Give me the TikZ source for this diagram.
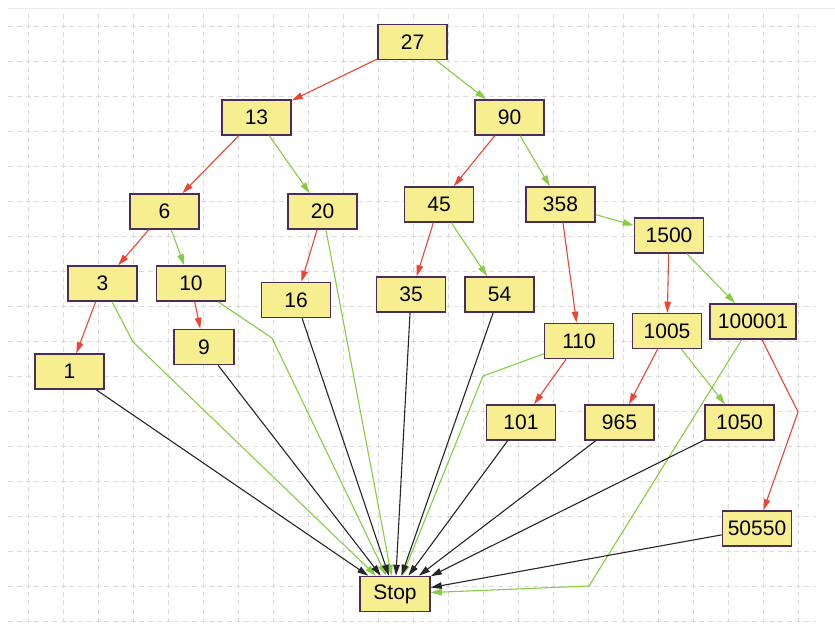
\documentclass[tikz,border=0pt]{standalone}
\usepackage{fontspec}
\setmainfont{Liberation Sans}
\usepackage{tikz}
\usepackage{xcolor}
\usetikzlibrary{positioning,arrows.meta}

\definecolor{box-fill}{HTML}{F7EF8F}
\definecolor{box-line}{HTML}{4B2D59}
\definecolor{edge-red}{HTML}{EE4433}
\definecolor{edge-green}{HTML}{88CC44}

\begin{document}
\begin{tikzpicture}
[
x=1pt, y=-1pt,
cell-a/.style={rectangle, draw=box-line, fill=box-fill, line width=1.6pt,
               minimum width=69pt, minimum height=35pt, inner sep=0pt,
               font=\fontsize{21}{24}\selectfont},
grid-a/.style={gray!28, line width=0.9pt, dash pattern=on 5pt off 3.75pt},
edge-lt/.style={edge-red, line width=1.1pt, -{Triangle[length=11pt,width=6.5pt]}},
edge-gt/.style={edge-green, line width=1.1pt, -{Triangle[length=11pt,width=6.5pt]}},
edge-end/.style={black!85, line width=1.1pt, -{Triangle[length=11pt,width=6.5pt]}}
]
\useasboundingbox (0,0) rectangle (835,625);
\fill[white] (0,0) rectangle (835,625);
\draw[gray!15, line width=1pt] (8,8) -- (835,8);
% grid
\foreach \i in {0,...,22}
  \draw[grid-a] (28+35*\i, 14) -- (28+35*\i, 622);
\foreach \j in {0,...,17}
  \draw[grid-a] (8, 26+35*\j) -- (816, 26+35*\j);

% boxes
\node (cell-27)     [cell-a                     ] at (412.5, 42.0) {27};
\node (cell-13)     [cell-a                     ] at (256.5,117.5) {13};
\node (cell-90)     [cell-a                     ] at (509.5,117.5) {90};
\node (cell-6)      [cell-a                     ] at (164.5,211.5) {6};
\node (cell-20)     [cell-a                     ] at (322.5,211.5) {20};
\node (cell-45)     [cell-a                     ] at (439.0,204.5) {45};
\node (cell-358)    [cell-a                     ] at (560.5,204.5) {358};
\node (cell-1500)   [cell-a                     ] at (669.0,235.5) {1500};
\node (cell-3)      [cell-a                     ] at (102.5,283.5) {3};
\node (cell-10)     [cell-a                     ] at (191.0,283.5) {10};
\node (cell-16)     [cell-a                     ] at (296.0,300.0) {16};
\node (cell-35)     [cell-a                     ] at (411.0,294.5) {35};
\node (cell-54)     [cell-a                     ] at (499.5,294.5) {54};
\node (cell-100001) [cell-a, minimum width=86pt ] at (753.0,321.5) {100001};
\node (cell-1005)   [cell-a                     ] at (667.0,331.0) {1005};
\node (cell-110)    [cell-a                     ] at (579.0,341.0) {110};
\node (cell-9)      [cell-a, minimum width=60pt ] at (204.0,347.0) {9};
\node (cell-1)      [cell-a                     ] at ( 69.5,371.5) {1};
\node (cell-101)    [cell-a                     ] at (521.0,422.5) {101};
\node (cell-965)    [cell-a                     ] at (619.5,422.5) {965};
\node (cell-1050)   [cell-a                     ] at (739.5,422.5) {1050};
\node (cell-50550)  [cell-a                     ] at (757.0,528.5) {50550};
\node (cell-stop)   [cell-a, minimum width=70pt ] at (395.0,594.0) {Stop};

% bends
\coordinate (bend-3)      at (133,342);
\coordinate (bend-10)     at (272,338);
\coordinate (bend-110)    at (483,376);
\coordinate (bend-100001) at (589,586);
\coordinate (bend-50550)  at (798,412);

% red
\draw[edge-lt] (cell-27)   -- (cell-13);
\draw[edge-lt] (cell-13)   -- (cell-6);
\draw[edge-lt] (cell-6)    -- (cell-3);
\draw[edge-lt] (cell-3)    -- (cell-1);
\draw[edge-lt] (cell-10)   -- (cell-9);
\draw[edge-lt] (cell-20)   -- (cell-16);
\draw[edge-lt] (cell-90)   -- (cell-45);
\draw[edge-lt] (cell-45)   -- (cell-35);
\draw[edge-lt] (cell-358)  -- (cell-110);
\draw[edge-lt] (cell-1500) -- (cell-1005);
\draw[edge-lt] (cell-110)  -- (cell-101);
\draw[edge-lt] (cell-1005) -- (cell-965);
\draw[edge-lt] (cell-100001) -- (bend-50550) -- (cell-50550);

% green
\draw[edge-gt] (cell-27)   -- (cell-90);
\draw[edge-gt] (cell-13)   -- (cell-20);
\draw[edge-gt] (cell-6)    -- (cell-10);
\draw[edge-gt] (cell-90)   -- (cell-358);
\draw[edge-gt] (cell-45)   -- (cell-54);
\draw[edge-gt] (cell-358)  -- (cell-1500);
\draw[edge-gt] (cell-1500) -- (cell-100001);
\draw[edge-gt] (cell-1005) -- (cell-1050);
\draw[edge-gt] (cell-20)   -- (cell-stop);
\draw[edge-gt] (cell-3)    -- (bend-3)   -- (cell-stop);
\draw[edge-gt] (cell-10)   -- (bend-10)  -- (cell-stop);
\draw[edge-gt] (cell-110)  -- (bend-110) -- (cell-stop);
\draw[edge-gt] (cell-100001) -- (bend-100001) -- (cell-stop);

% black
\foreach \k in {1,9,16,35,54,101,965,1050,50550}
  \draw[edge-end] (cell-\k) -- (cell-stop);
\end{tikzpicture}
\end{document}
